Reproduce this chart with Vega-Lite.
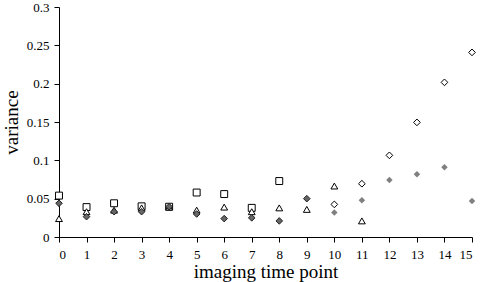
{
  "$schema": "https://vega.github.io/schema/vega-lite/v6.json",
  "autosize": {"type": "none"},
  "width": 413,
  "height": 230,
  "padding": {"left": 59, "top": 7, "right": 8, "bottom": 45},
  "background": "white",
  "config": {
    "view": {"stroke": null},
    "font": "Times New Roman, Liberation Serif, serif",
    "axis": {
      "labelFont": "Times New Roman, Liberation Serif, serif",
      "titleFont": "Times New Roman, Liberation Serif, serif",
      "labelColor": "black",
      "titleColor": "black",
      "domainColor": "black",
      "tickColor": "black",
      "grid": false,
      "titleFontWeight": "normal"
    }
  },
  "data": {
    "values": [
      {"series": "A", "t": 0, "v": 0.054},
      {"series": "A", "t": 1, "v": 0.039},
      {"series": "A", "t": 2, "v": 0.044},
      {"series": "A", "t": 3, "v": 0.040},
      {"series": "A", "t": 4, "v": 0.0395},
      {"series": "A", "t": 5, "v": 0.058},
      {"series": "A", "t": 6, "v": 0.056},
      {"series": "A", "t": 7, "v": 0.038},
      {"series": "A", "t": 8, "v": 0.073},
      {"series": "B", "t": 0, "v": 0.024},
      {"series": "B", "t": 1, "v": 0.033},
      {"series": "B", "t": 2, "v": 0.035},
      {"series": "B", "t": 3, "v": 0.038},
      {"series": "B", "t": 4, "v": 0.039},
      {"series": "B", "t": 5, "v": 0.035},
      {"series": "B", "t": 6, "v": 0.039},
      {"series": "B", "t": 7, "v": 0.033},
      {"series": "B", "t": 8, "v": 0.038},
      {"series": "B", "t": 9, "v": 0.036},
      {"series": "B", "t": 10, "v": 0.0665},
      {"series": "B", "t": 11, "v": 0.021},
      {"series": "C", "t": 10, "v": 0.0425},
      {"series": "C", "t": 11, "v": 0.0695},
      {"series": "C", "t": 12, "v": 0.1065},
      {"series": "C", "t": 13, "v": 0.1495},
      {"series": "C", "t": 14, "v": 0.2017},
      {"series": "C", "t": 15, "v": 0.2408},
      {"series": "D", "t": 0, "v": 0.044},
      {"series": "D", "t": 1, "v": 0.0265},
      {"series": "D", "t": 2, "v": 0.033},
      {"series": "D", "t": 3, "v": 0.033},
      {"series": "D", "t": 4, "v": 0.0395},
      {"series": "D", "t": 5, "v": 0.030},
      {"series": "D", "t": 6, "v": 0.024},
      {"series": "D", "t": 7, "v": 0.025},
      {"series": "D", "t": 8, "v": 0.021},
      {"series": "D", "t": 9, "v": 0.050},
      {"series": "E", "t": 10, "v": 0.032},
      {"series": "E", "t": 11, "v": 0.048},
      {"series": "E", "t": 12, "v": 0.0743},
      {"series": "E", "t": 13, "v": 0.0817},
      {"series": "E", "t": 14, "v": 0.0909},
      {"series": "E", "t": 15, "v": 0.047}
    ]
  },
  "mark": {"type": "point", "filled": true, "opacity": 1, "strokeWidth": 1, "clip": false},
  "encoding": {
    "x": {
      "field": "t", "type": "quantitative",
      "scale": {"domain": [0, 15], "nice": false, "zero": false},
      "axis": {
        "values": [0,1,2,3,4,5,6,7,8,9,10,11,12,13,14,15],
        "format": "d",
        "title": "imaging time point",
        "titleFontSize": 19,
        "labelFontSize": 13,
        "tickSize": 5,
        "labelPadding": 6,
        "titlePadding": 1
      }
    },
    "y": {
      "field": "v", "type": "quantitative",
      "scale": {"domain": [0, 0.3], "nice": false},
      "axis": {
        "values": [0, 0.05, 0.1, 0.15, 0.2, 0.25, 0.3],
        "format": "~g",
        "title": "variance",
        "titleFontSize": 19,
        "labelFontSize": 13,
        "tickSize": 5,
        "labelPadding": 5,
        "titlePadding": 5
      }
    },
    "shape": {
      "field": "series", "type": "nominal", "legend": null,
      "scale": {"domain": ["A","B","C","D","E"], "range": ["square","triangle-up","diamond","diamond","diamond"]}
    },
    "fill": {
      "field": "series", "type": "nominal", "legend": null,
      "scale": {"domain": ["A","B","C","D","E"], "range": ["white","white","white","#666666","#808080"]}
    },
    "stroke": {
      "field": "series", "type": "nominal", "legend": null,
      "scale": {"domain": ["A","B","C","D","E"], "range": ["black","black","black","#222222","transparent"]}
    },
    "size": {
      "field": "series", "type": "nominal", "legend": null,
      "scale": {"domain": ["A","B","C","D","E"], "range": [48, 42, 105, 115, 125]}
    },
    "order": {"field": "series", "sort": "ascending"}
  }
}
